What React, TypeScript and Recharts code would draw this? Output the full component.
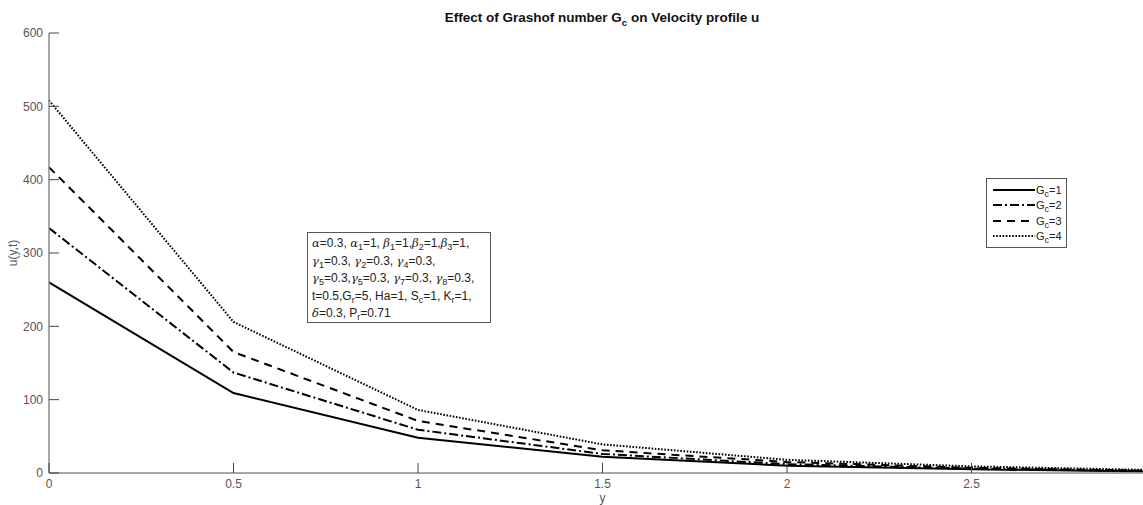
import { LineChart, Line, XAxis, YAxis, Legend } from "recharts";

// valeurs (u(y,t) pour chaque Gc)
const yValues = [0, 0.5, 1, 1.5, 2, 2.5, 3];
const gc1 = [260, 109, 48, 22, 10, 5, 2];
const gc2 = [334, 137, 59, 26, 12, 6, 2.5];
const gc3 = [417, 165, 71, 31, 15, 7, 3];
const gc4 = [508, 206, 86, 39, 18, 9, 4];
const gcLabels = ["1", "2", "3", "4"];

// la graduation 3 tombe hors du cadre de l'image d'origine
const xTicks = [0, 0.5, 1, 1.5, 2, 2.5];
const yTicks = [0, 100, 200, 300, 400, 500, 600];

const data = yValues.map((y, i) => ({ y, gc1: gc1[i], gc2: gc2[i], gc3: gc3[i], gc4: gc4[i] }));

// styles des courbes, façon MATLAB (noir, '-', '-.', '--', ':')
const series = [
  { key: "gc1", dash: undefined as string | undefined },
  { key: "gc2", dash: "9 3 2 3" },
  { key: "gc3", dash: "8 6" },
  { key: "gc4", dash: "1.6 1.6" },
];

const AXIS = "#8a8a8a";
const TICK = "#444";
const LABEL = "#555555";
const FONT = "'Liberation Sans', Arial, sans-serif";

function BottomTick(props: any) {
  const { x, y, payload } = props;
  return (
    <g>
      <line x1={x} y1={y} x2={x} y2={y - 10} stroke={TICK} />
      <text x={x} y={y + 15} textAnchor="middle" fontSize={12} style={{ fill: LABEL }} fontFamily={FONT}>
        {payload.value}
      </text>
    </g>
  );
}

function TopTick(props: any) {
  const { x, y } = props;
  return <line x1={x} y1={y} x2={x} y2={y + 10} stroke={TICK} />;
}

function LeftTick(props: any) {
  const { x, y, payload } = props;
  return (
    <g>
      <line x1={x} y1={y} x2={x + 10} y2={y} stroke={TICK} />
      <text x={x - 6} y={y} dy="0.35em" textAnchor="end" fontSize={12} style={{ fill: LABEL }} fontFamily={FONT}>
        {payload.value}
      </text>
    </g>
  );
}

const subStyle = { fontSize: 9, verticalAlign: "-3px", lineHeight: 0 } as const;
const greek = { fontFamily: "'DejaVu Serif', serif", fontStyle: "italic", fontSize: 11.5 } as const;

function Gr({ c, s }: { c: string; s?: string }) {
  return (
    <>
      <span style={greek}>{c}</span>
      {s && <span style={subStyle}>{s}</span>}
    </>
  );
}

function S({ s }: { s: string }) {
  return <span style={subStyle}>{s}</span>;
}

function LegendBox() {
  return (
    <div
      style={{
        border: "1px solid #555",
        background: "#fff",
        padding: "3px 4px 3px 6px",
        fontFamily: FONT,
        fontSize: 11,
        color: "#222",
      }}
    >
      {series.map((s, i) => (
        <div key={s.key} style={{ display: "flex", alignItems: "center", height: 15.5 }}>
          <svg width={42} height={6} style={{ marginRight: 1 }}>
            <line x1={0} y1={3} x2={42} y2={3} stroke="#000" strokeWidth={2} strokeDasharray={s.dash} />
          </svg>
          <span>
            G<S s="c" />={gcLabels[i]}
          </span>
        </div>
      ))}
    </div>
  );
}

export default function App() {
  return (
    <div
      style={{
        position: "fixed",
        left: 0,
        top: 0,
        width: 1143,
        height: 505,
        overflow: "hidden",
        background: "#fff",
        fontFamily: FONT,
      }}
    >
      <LineChart width={1160} height={505} data={data} margin={{ top: 33, right: 4, bottom: 0, left: 0 }}>
        <XAxis
          xAxisId="b"
          type="number"
          dataKey="y"
          domain={[0, 3]}
          ticks={xTicks}
          interval={0}
          height={32}
          tickSize={0}
          tickMargin={0}
          axisLine={{ stroke: AXIS, strokeWidth: 1.5 }}
          tick={<BottomTick />}
          label={{ value: "y", position: "insideBottom", offset: 3, fill: LABEL, fontSize: 12 }}
        />
        <XAxis
          xAxisId="t"
          orientation="top"
          type="number"
          dataKey="y"
          domain={[0, 3]}
          ticks={xTicks}
          interval={0}
          height={0}
          tickSize={0}
          tickMargin={0}
          axisLine={{ stroke: AXIS, strokeWidth: 1.5 }}
          tick={<TopTick />}
        />
        <YAxis
          yAxisId="l"
          type="number"
          domain={[0, 600]}
          ticks={yTicks}
          interval={0}
          width={49}
          tickSize={0}
          tickMargin={0}
          axisLine={{ stroke: AXIS, strokeWidth: 1.5 }}
          tick={<LeftTick />}
        />
        <Legend
          layout="vertical"
          align="center"
          verticalAlign="middle"
          wrapperStyle={{ left: 986, top: 178, width: "auto" }}
          content={() => <LegendBox />}
        />
        {series.map((s) => (
          <Line
            key={s.key}
            xAxisId="b"
            yAxisId="l"
            type="linear"
            dataKey={s.key}
            stroke="#000"
            strokeWidth={2}
            strokeDasharray={s.dash}
            dot={false}
            isAnimationActive={false}
          />
        ))}
      </LineChart>

      <svg
        width={1143}
        height={505}
        style={{ position: "absolute", left: 0, top: 0, pointerEvents: "none" }}
      >
        <text x={602} y={22} textAnchor="middle" fontSize={13.5} fontWeight="bold" fill="#111" fontFamily={FONT}>
          Effect of Grashof number G
          <tspan fontSize={9.5} dy={4}>c</tspan>
          <tspan dy={-4}> on Velocity profile u</tspan>
        </text>
        <text
          x={13}
          y={253}
          transform="rotate(-90 13 253)"
          textAnchor="middle"
          dominantBaseline="central"
          fontSize={12}
          fill={LABEL}
          fontFamily={FONT}
        >
          u(y,t)
        </text>
      </svg>

      <div
        style={{
          position: "absolute",
          left: 307,
          top: 232,
          width: 184,
          height: 91,
          boxSizing: "border-box",
          border: "1px solid #555",
          background: "#fff",
          padding: "2px 0 0 4px",
          fontSize: 12,
          lineHeight: "17.5px",
          color: "#222",
          whiteSpace: "nowrap",
        }}
      >
        <div>
          <Gr c="α" />=0.3, <Gr c="α" s="1" />=1, <Gr c="β" s="1" />=1,<Gr c="β" s="2" />=1,<Gr c="β" s="3" />=1,
        </div>
        <div>
          <Gr c="γ" s="1" />=0.3, <Gr c="γ" s="2" />=0.3, <Gr c="γ" s="4" />=0.3,
        </div>
        <div>
          <Gr c="γ" s="5" />=0.3,<Gr c="γ" s="5" />=0.3, <Gr c="γ" s="7" />=0.3, <Gr c="γ" s="8" />=0.3,
        </div>
        <div>
          t=0.5,G<S s="r" />=5, Ha=1, S<S s="c" />=1, K<S s="r" />=1,
        </div>
        <div>
          <Gr c="δ" />=0.3, P<S s="r" />=0.71
        </div>
      </div>
    </div>
  );
}
